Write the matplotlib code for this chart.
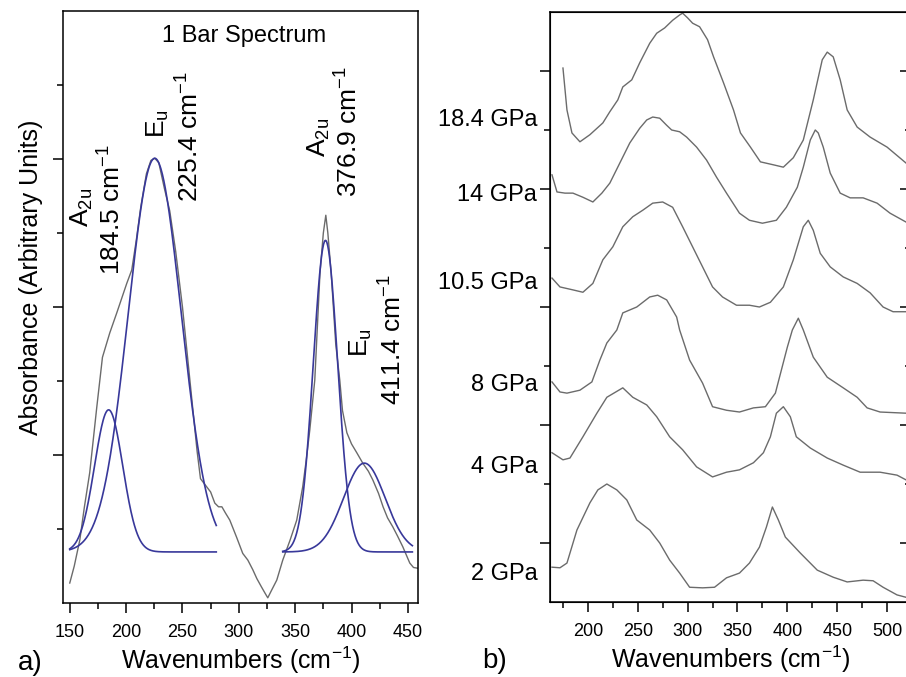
# -*- coding: utf-8 -*-
# Far-IR absorbance: a) 1 bar spectrum with gaussian fits, b) spectra vs pressure
import numpy as np
import matplotlib
matplotlib.use("Agg")
from matplotlib import pyplot as plt
from matplotlib.ticker import MultipleLocator, FixedLocator, NullFormatter
import matplotlib.transforms as mtransforms

plt.rcParams["font.family"] = "Liberation Sans"
plt.rcParams["mathtext.fontset"] = "custom"
plt.rcParams["mathtext.rm"] = "Liberation Sans"
plt.rcParams["mathtext.it"] = "Liberation Sans:italic"

bar_wn = [150, 154, 158.9, 163, 167.7, 174, 179, 185.5, 191.7, 200.6, 205, 209, 213,
          218, 222, 225.4, 229, 234, 238.7, 244, 250, 255, 259, 263, 266, 271.5,
          275, 278.7, 282, 285, 288, 292, 298, 303.5, 308, 312.4, 316, 320, 323,
          325.7, 329, 333.7, 339, 345.5, 351.4, 356.7, 360, 363, 367.4, 372, 375,
          377.2, 379, 382, 386, 389.6, 392, 395.9, 400, 404.7, 410, 415, 419, 424,
          428, 432, 436.6, 441, 445.5, 451.7, 455, 458.8]
bar_abs = [0.27, 0.5, 0.85, 1.3, 1.76, 2.65, 3.32, 3.65, 3.92, 4.32, 4.5, 4.9, 5.35,
           5.8, 5.98, 6.01, 5.95, 5.6, 5.3, 4.75, 4.0, 3.25, 2.65, 2.05, 1.68, 1.57,
           1.5, 1.35, 1.3, 1.3, 1.22, 1.12, 0.89, 0.67, 0.58, 0.45, 0.33, 0.22, 0.14,
           0.07, 0.17, 0.31, 0.58, 0.85, 1.12, 1.57, 1.95, 2.34, 3.01, 4.45, 5.0,
           5.24, 5.0, 4.45, 3.5, 3.01, 2.6, 2.3, 2.15, 2.03, 1.89, 1.78, 1.66, 1.48,
           1.3, 1.15, 1.03, 0.9, 0.76, 0.54, 0.48, 0.47]

# gaussian fit components: centre, height above baseline, sigma, fit range
fit_centre = [184.5, 225.4, 376.9, 411.4]
fit_height = [1.92, 5.32, 4.21, 1.2]
fit_sigma = [12.5, 23.5, 10.8, 18.5]
fit_range = [(150, 280), (150, 280), (339, 454), (339, 454)]
fit_base = 0.69

peak_mode = ["A$\\mathregular{_{2u}}$", "E$\\mathregular{_u}$",
             "A$\\mathregular{_{2u}}$", "E$\\mathregular{_u}$"]
peak_text = ["184.5 cm$\\mathregular{^{-1}}$", "225.4 cm$\\mathregular{^{-1}}$",
             "376.9 cm$\\mathregular{^{-1}}$", "411.4 cm$\\mathregular{^{-1}}$"]

# ---- panel b: spectra at pressure (offset stacked)
pressures = ["2 GPa", "4 GPa", "8 GPa", "10.5 GPa", "14 GPa", "18.4 GPa"]
wn_2 = [164, 172, 179, 189, 202, 210, 219, 229, 239, 249, 262, 272, 282, 292, 302,
        315, 327, 339, 352, 362, 372, 379, 385, 391, 398, 413, 430, 446, 460, 476,
        486, 496, 510, 519]
ab_2 = [0.59, 0.58, 0.66, 1.22, 1.68, 1.9, 2.0, 1.9, 1.73, 1.39, 1.22, 1.0, 0.71,
        0.49, 0.25, 0.24, 0.25, 0.41, 0.49, 0.66, 0.93, 1.27, 1.61, 1.39, 1.1, 0.83,
        0.54, 0.42, 0.34, 0.37, 0.36, 0.25, 0.12, 0.08]
wn_4 = [164, 175, 182, 195, 209, 219, 235, 245, 259, 269, 282, 295, 309, 325, 339,
        352, 366, 376, 383, 389, 396, 403, 409, 423, 440, 456, 473, 493, 510, 519]
ab_4 = [2.53, 2.41, 2.44, 2.8, 3.2, 3.47, 3.63, 3.47, 3.34, 3.14, 2.8, 2.58, 2.29,
        2.12, 2.2, 2.24, 2.36, 2.53, 2.8, 3.2, 3.31, 3.14, 2.8, 2.61, 2.44, 2.32,
        2.2, 2.2, 2.15, 2.07]
wn_8 = [164, 172, 179, 192, 204, 212, 219, 229, 235, 249, 262, 270, 279, 289, 292,
        302, 315, 325, 339, 352, 366, 378, 388, 394, 400, 405, 411, 416, 426, 440,
        456, 470, 480, 493, 519]
ab_8 = [3.73, 3.56, 3.54, 3.59, 3.73, 4.1, 4.39, 4.61, 4.9, 5.0, 5.17, 5.2, 5.12,
        4.83, 4.61, 4.1, 3.71, 3.31, 3.25, 3.22, 3.29, 3.31, 3.54, 3.93, 4.32, 4.61,
        4.81, 4.61, 4.15, 3.81, 3.63, 3.47, 3.29, 3.22, 3.2]
wn_10 = [164, 172, 185, 195, 205, 215, 225, 235, 245, 255, 265, 275, 285, 295, 305,
         315, 325, 335, 349, 362, 372, 383, 396, 406, 416, 421, 426, 433, 443, 456,
         470, 483, 496, 506, 519]
ab_10 = [5.49, 5.34, 5.29, 5.25, 5.4, 5.8, 6.02, 6.36, 6.53, 6.64, 6.76, 6.78, 6.69,
         6.36, 6.02, 5.68, 5.34, 5.17, 5.03, 5.03, 5.0, 5.08, 5.34, 5.8, 6.36, 6.47,
         6.3, 5.91, 5.68, 5.51, 5.4, 5.24, 5.0, 4.92, 4.92]
wn_14 = [164, 169, 177, 185, 195, 205, 214, 222, 232, 242, 252, 259, 265, 272, 279,
         284, 292, 299, 309, 319, 329, 339, 352, 362, 375, 389, 399, 410, 416, 423,
         428, 431, 436, 443, 453, 463, 476, 490, 503, 519]
ab_14 = [7.24, 6.95, 6.93, 6.93, 6.86, 6.78, 6.93, 7.1, 7.44, 7.78, 8.03, 8.17, 8.22,
         8.2, 8.08, 8.0, 7.97, 7.88, 7.71, 7.49, 7.2, 6.93, 6.59, 6.47, 6.42, 6.47,
         6.69, 7.03, 7.37, 7.83, 8.0, 7.95, 7.71, 7.27, 6.93, 6.85, 6.85, 6.76, 6.59,
         6.44]
wn_18 = [175, 179, 184, 192, 202, 215, 222, 230, 235, 244, 252, 262, 269, 277, 285,
         292, 295, 300, 305, 312, 320, 326, 336, 346, 353, 363, 373, 386, 396, 406,
         416, 426, 435, 440, 446, 453, 460, 470, 483, 500, 519]
ab_18 = [9.05, 8.34, 7.95, 7.8, 7.92, 8.12, 8.31, 8.51, 8.73, 8.85, 9.14, 9.47, 9.64,
         9.73, 9.86, 9.95, 9.98, 9.9, 9.81, 9.75, 9.53, 9.24, 8.8, 8.34, 7.95, 7.71,
         7.46, 7.41, 7.37, 7.53, 7.83, 8.51, 9.19, 9.32, 9.24, 8.85, 8.34, 8.05, 7.88,
         7.71, 7.44]
spectra_wn = [wn_2, wn_4, wn_8, wn_10, wn_14, wn_18]
spectra_ab = [ab_2, ab_4, ab_8, ab_10, ab_14, ab_18]
label_y = [0.47, 2.29, 3.68, 5.41, 6.9, 8.17]

gray = "#6b6b6b"
blue = "#38389a"

fig = plt.figure(figsize=(9.06, 6.77), dpi=100)
W, H = 906.0, 677.0

# ---------------- panel a
ax1 = fig.add_axes([63 / W, 1 - 603 / H, 355 / W, 592 / H])
ax1.plot(bar_wn, bar_abs, color=gray, lw=1.0)
for c, h, s, (lo, hi) in zip(fit_centre, fit_height, fit_sigma, fit_range):
    xx = np.linspace(lo, hi, 300)
    ax1.plot(xx, fit_base + h * np.exp(-(xx - c) ** 2 / (2 * s ** 2)), color=blue, lw=1.2)

ax1.set_xlim(144, 459)
ax1.set_ylim(0, 8)
ax1.xaxis.set_major_locator(MultipleLocator(50))
ax1.xaxis.set_minor_locator(MultipleLocator(25))
ax1.yaxis.set_major_locator(FixedLocator([2, 4, 6]))
ax1.yaxis.set_minor_locator(FixedLocator([1, 3, 5, 7]))
ax1.yaxis.set_major_formatter(NullFormatter())
ax1.tick_params(which="both", direction="out", width=1.1, labelsize=13, pad=8)
ax1.tick_params(which="major", length=7)
ax1.tick_params(which="minor", length=4.5)
ax1.set_xlabel("Wavenumbers (cm$\\mathregular{^{-1}}$)", fontsize=18, labelpad=3)
ax1.set_ylabel("Absorbance (Arbitrary Units)", fontsize=18)
ax1.yaxis.set_label_coords(-0.055, 0.55)
for sp in ax1.spines.values():
    sp.set_linewidth(1.1)

ax1.text(305, 7.66, "1 Bar Spectrum", fontsize=17, ha="center", va="center")
# peak labels (rotated): mode symbol then wavenumber
mode_pos = [(161.1, 5.08), (228.0, 6.28), (371.0, 6.03), (408.2, 3.32)]
text_pos = [(187.7, 4.43), (256.9, 5.42), (398.0, 5.49), (437.0, 2.68)]
for m, t, (mx, my), (tx, ty) in zip(peak_mode, peak_text, mode_pos, text_pos):
    ax1.text(mx, my, m, rotation=90, fontsize=19, ha="center", va="bottom")
    ax1.text(tx, ty, t, rotation=90, fontsize=19, ha="center", va="bottom")

fig.text(18 / W, 1 - 670 / H, "a)", fontsize=20, ha="left", va="baseline")

# ---------------- panel b
ax2 = fig.add_axes([550 / W, 1 - 602 / H, 362 / W, 590 / H])
for wn, ab in zip(spectra_wn, spectra_ab):
    ax2.plot(wn, ab, color=gray, lw=1.0)
ax2.set_xlim(162, 525)
ax2.set_ylim(0, 10)
ax2.xaxis.set_major_locator(MultipleLocator(50))
ax2.xaxis.set_minor_locator(MultipleLocator(25))
ax2.yaxis.set_major_locator(FixedLocator([1, 3, 5, 7, 9]))
ax2.yaxis.set_minor_locator(FixedLocator([2, 4, 6, 8]))
ax2.yaxis.set_major_formatter(NullFormatter())
ax2.tick_params(which="both", direction="out", width=1.1, labelsize=13, pad=8)
ax2.tick_params(which="major", length=7)
ax2.tick_params(which="minor", length=4.5)
ax2.set_xlabel("Wavenumbers (cm$\\mathregular{^{-1}}$)", fontsize=18, labelpad=3)
for sp in ax2.spines.values():
    sp.set_linewidth(1.1)

ax3 = ax2.twinx()
ax3.set_ylim(0, 10)
ax3.yaxis.set_major_locator(FixedLocator([1, 3, 5, 7, 9]))
ax3.yaxis.set_minor_locator(FixedLocator([2, 4, 6, 8]))
ax3.yaxis.set_major_formatter(NullFormatter())
ax3.tick_params(which="both", direction="in", width=1.1)
ax3.tick_params(which="major", length=9)
ax3.tick_params(which="minor", length=5)

trans = mtransforms.blended_transform_factory(ax2.transAxes, ax2.transData)
for p, ly in zip(pressures, label_y):
    ax2.text(-0.035, ly, p, transform=trans, fontsize=17, ha="right", va="center")

fig.text(482 / W, 1 - 668 / H, "b)", fontsize=20, ha="left", va="baseline")

fig.savefig("out.png", dpi=100)
